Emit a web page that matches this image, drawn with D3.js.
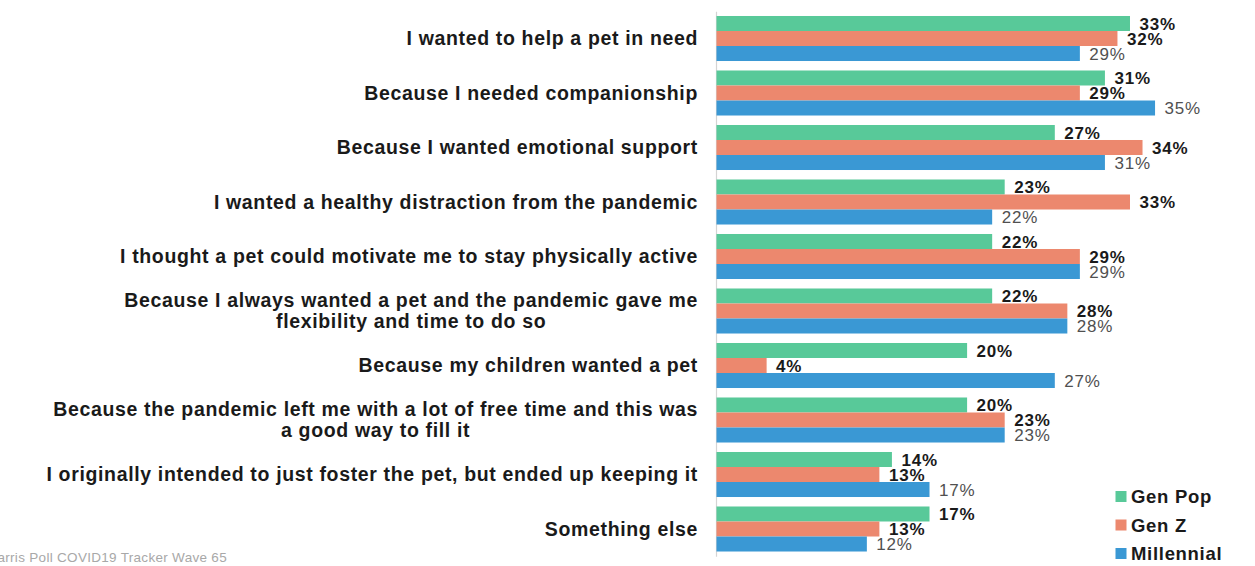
<!DOCTYPE html>
<html>
<head>
<meta charset="utf-8">
<script src="https://cdn.jsdelivr.net/npm/d3@7"></script>
<style>
  html, body { margin: 0; padding: 0; background: #fff; }
  svg { display: block; font-family: "Liberation Sans", Arial, Helvetica, sans-serif; }
</style>
</head>
<body>
<svg id="chart" width="1255" height="566"></svg>
<script>
// ---- data ----
const categories = [
  "I wanted to help a pet in need",
  "Because I needed companionship",
  "Because I wanted emotional support",
  "I wanted a healthy distraction from the pandemic",
  "I thought a pet could motivate me to stay physically active",
  "Because I always wanted a pet and the pandemic gave me\nflexibility and time to do so",
  "Because my children wanted a pet",
  "Because the pandemic left me with a lot of free time and this was\na good way to fill it",
  "I originally intended to just foster the pet, but ended up keeping it",
  "Something else"
];
const seriesNames = ["Gen Pop", "Gen Z", "Millennial"];
const genPop     = [33, 31, 27, 23, 22, 22, 20, 20, 14, 17];
const genZ       = [32, 29, 34, 33, 29, 28, 4, 23, 13, 13];
const millennial = [29, 35, 31, 22, 29, 28, 27, 23, 17, 12];
const sourceNote = "Harris Poll COVID19 Tracker Wave 65";

const colors = ["#58C999", "#EC886E", "#3A98D4"];
const seriesValues = [genPop, genZ, millennial];

const rows = [];
categories.forEach((c, i) => {
  seriesNames.forEach((s, j) => rows.push({ cat: c, series: s, value: seriesValues[j][i], si: j }));
});

const svg = d3.select("#chart");

const x = d3.scaleLinear().domain([0, 40]).range([716, 716 + 40 * 12.53]);
const y = d3.scaleBand().domain(categories).range([11.25, 556.25])
  .paddingInner(0.174).paddingOuter(0.087);
const ySub = d3.scaleBand().domain(seriesNames).range([0, y.bandwidth()]).padding(0);

// axis line (vertical category axis)
const yAxis = d3.axisLeft(y).tickSize(0).tickFormat("");
const gAxis = svg.append("g").attr("transform", `translate(${x(0)},0)`).call(yAxis);
gAxis.select(".domain").attr("stroke", "#d4d4d4").attr("stroke-width", 1.2);

// bars
svg.append("g").selectAll("rect").data(rows).join("rect")
  .attr("x", x(0) + 0.5)
  .attr("y", d => y(d.cat) + ySub(d.series))
  .attr("width", d => x(d.value) - x(0))
  .attr("height", ySub.bandwidth())
  .attr("fill", d => colors[d.si]);

// value labels
svg.append("g").selectAll("text").data(rows).join("text")
  .attr("x", d => x(d.value) + 10)
  .attr("y", d => y(d.cat) + ySub(d.series) + ySub.bandwidth() / 2)
  .attr("dy", "0.36em")
  .attr("font-size", 17)
  .attr("letter-spacing", 0.8)
  .attr("font-weight", d => d.si === 2 ? "normal" : "bold")
  .attr("fill", d => d.si === 2 ? "#505050" : "#1a1a1a")
  .text(d => d.value + "%");

// category labels (right-aligned block, lines centered within block)
const labG = svg.append("g");
const labFont = 19.5, labLS = 0.65;
categories.forEach(c => {
  const lines = c.split("\n");
  const cy = y(c) + y.bandwidth() / 2;
  const lh = 21;
  const t = labG.append("text")
    .attr("font-size", labFont)
    .attr("font-weight", "bold")
    .attr("letter-spacing", labLS)
    .attr("fill", "#1a1a1a");
  if (lines.length === 1) {
    t.attr("x", 698).attr("y", cy).attr("dy", "0.35em").attr("text-anchor", "end").text(c);
  } else {
    const tmp = labG.append("text").attr("font-size", labFont).attr("font-weight", "bold")
      .attr("letter-spacing", labLS).text(lines[0]);
    const w = tmp.node().getComputedTextLength();
    tmp.remove();
    const mid = 698 - w / 2;
    t.attr("text-anchor", "middle");
    lines.forEach((ln, k) => {
      t.append("tspan").attr("x", mid)
        .attr("y", cy + (k - (lines.length - 1) / 2) * lh)
        .attr("dy", "0.35em").text(ln);
    });
  }
});

// legend
const leg = svg.append("g");
seriesNames.forEach((s, j) => {
  const cy = 496.5 + j * 28.5;
  leg.append("rect").attr("x", 1115.5).attr("y", cy - 5.5).attr("width", 11).attr("height", 11).attr("fill", colors[j]);
  leg.append("text").attr("x", 1131).attr("y", cy).attr("dy", "0.36em")
    .attr("font-size", 18.5).attr("font-weight", "bold").attr("letter-spacing", 0.7)
    .attr("fill", "#1a1a1a").text(s);
});

// source note (clipped at the left edge)
svg.append("text").attr("x", 227).attr("y", 562).attr("text-anchor", "end")
  .attr("font-size", 13.5).attr("letter-spacing", 0.3).attr("fill", "#a8a8a8").text(sourceNote);
</script>
</body>
</html>
